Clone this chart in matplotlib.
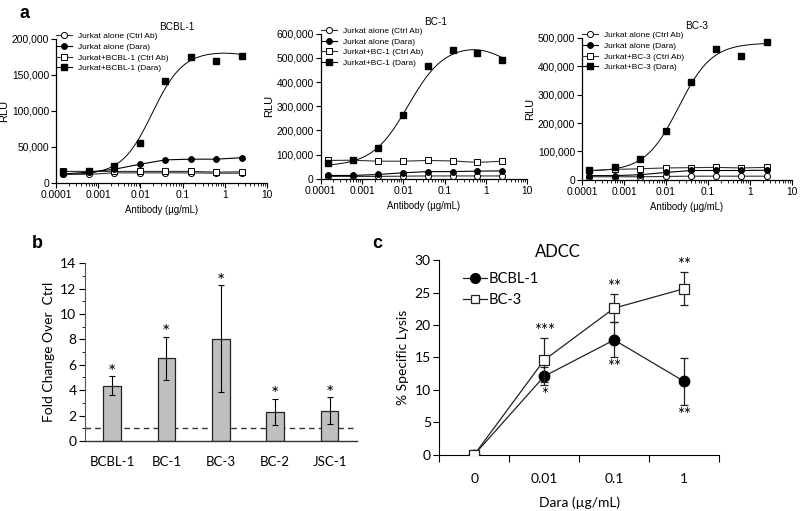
import numpy as np
import matplotlib
matplotlib.use('Agg')
import matplotlib.pyplot as plt
from matplotlib.lines import Line2D
from matplotlib.ticker import FuncFormatter, LogLocator, MultipleLocator, NullFormatter

# panel a: antibody dilution series (ug/mL)
conc = [0.00015, 0.00061, 0.0024, 0.0098, 0.039, 0.156, 0.625, 2.5]

cell_lines_a = ['BCBL-1', 'BC-1', 'BC-3']
jurkat_ctrl = [
    [12000, 12000, 14000, 14000, 14000, 14000, 13500, 13500],
    [10000, 10000, 10000, 11000, 12000, 12000, 12000, 12000],
    [11000, 11000, 11000, 12000, 13000, 13000, 13000, 13000],
]
jurkat_dara = [
    [12500, 15000, 19000, 26000, 32000, 33000, 33000, 35000],
    [14000, 14000, 18000, 25000, 30000, 30000, 32000, 33000],
    [15000, 15000, 18000, 26000, 33000, 33000, 33000, 34000],
]
target_ctrl = [
    [16000, 16000, 16000, 16000, 16000, 16000, 15000, 15500],
    [76000, 77000, 73000, 73000, 76000, 74000, 68000, 73000],
    [33000, 37000, 39000, 42000, 43000, 44000, 42000, 44000],
]
target_dara = [
    [15200, 16000, 23000, 56000, 141000, 175000, 169000, 175500],
    [66000, 77000, 128000, 263000, 466000, 532000, 521000, 492000],
    [35000, 44000, 73000, 173000, 343000, 462000, 437000, 484000],
]
# bell-shaped dose-response fit: bottom, top, logEC50, hill, plateau2, logEC50_2, hill2
fit_params = [
    [11000, 183000, -1.72, 1.2, 170000, 0.6, 1.5],
    [52000, 556000, -1.88, 1.0, 460000, 0.35, 1.5],
    [30000, 482000, -1.70, 1.1, 482000, 1.0, 1.0],
]
ymax_a = [200000, 600000, 500000]
ystep_a = [50000, 100000, 100000]

# panel b
lines_b = ['BCBL-1', 'BC-1', 'BC-3', 'BC-2', 'JSC-1']
fold = [4.35, 6.5, 8.05, 2.3, 2.4]
fold_err = [0.75, 1.7, 4.2, 1.02, 1.03]

# panel c
dara_levels = ['0', '0.01', '0.1', '1']
lysis_bcbl1 = [0, 12.1, 17.7, 11.3]
lysis_bcbl1_err = [0, 1.4, 2.7, 3.6]
lysis_bc3 = [0, 14.6, 22.6, 25.6]
lysis_bc3_err = [0, 3.4, 2.1, 2.5]
stars_bc3 = ['', '***', '**', '**']
stars_bcbl1 = ['', '*', '**', '**']


def bell(logx, p):
    bottom, top, ec1, h1, plat2, ec2, h2 = p
    return (bottom + (top - bottom) / (1 + 10 ** ((ec1 - logx) * h1))
            + (plat2 - top) / (1 + 10 ** ((ec2 - logx) * h2)))


fig = plt.figure(figsize=(8, 5.11), dpi=100)
arial = 'Liberation Sans'
calibri = 'Lato'

pos_a = [(0.070, 0.642, 0.264, 0.282), (0.401, 0.650, 0.258, 0.284), (0.7275, 0.648, 0.2625, 0.278)]
title_x = [0.57, 0.558, 0.548]

for i, name in enumerate(cell_lines_a):
    ax = fig.add_axes(pos_a[i])
    ax.set_xscale('log')
    k = dict(color='black', lw=0.8, ms=4.2, mew=0.7)
    ax.plot(conc, jurkat_ctrl[i], marker='o', mfc='white', mec='black', color='#333333', lw=0.8, ms=4.4, mew=0.7,
            label='Jurkat alone (Ctrl Ab)', zorder=3)
    ax.plot(conc, jurkat_dara[i], marker='o', mfc='black', label='Jurkat alone (Dara)', zorder=4, **k)
    ax.plot(conc, target_ctrl[i], marker='s', mfc='white', mec='black', color='#333333', lw=0.8, ms=4.0, mew=0.7,
            label='Jurkat+%s (Ctrl Ab)' % name, zorder=3)
    xs = np.logspace(np.log10(conc[0]), np.log10(conc[-1]), 200)
    ax.plot(xs, bell(np.log10(xs), fit_params[i]), color='black', lw=0.7, zorder=2)
    ax.plot(conc, target_dara[i], ls='none', marker='s', mfc='black', mec='black', ms=4.4, zorder=5)
    ax.plot([], [], marker='s', color='black', mfc='black', lw=0.8, ms=4.4, label='Jurkat+%s (Dara)' % name)

    ax.set_xlim(0.0001, 10)
    ax.set_ylim(0, ymax_a[i])
    ax.set_yticks(np.arange(0, ymax_a[i] + 1, ystep_a[i]))
    ax.yaxis.set_major_formatter(FuncFormatter(lambda v, p: '{:,.0f}'.format(v)))
    ax.set_xticks([0.0001, 0.001, 0.01, 0.1, 1, 10])
    ax.set_xticklabels(['0.0001', '0.001', '0.01', '0.1', '1', '10'])
    ax.xaxis.set_minor_locator(LogLocator(base=10, subs=np.arange(2, 10), numticks=20))
    ax.xaxis.set_minor_formatter(NullFormatter())
    for s in ['top', 'right']:
        ax.spines[s].set_visible(False)
    for s in ['left', 'bottom']:
        ax.spines[s].set_linewidth(0.9)
    ax.tick_params(axis='both', which='major', labelsize=7.4, length=3.5, width=0.8, pad=1.5)
    ax.tick_params(axis='x', which='minor', length=2, width=0.6)
    for t in ax.get_xticklabels() + ax.get_yticklabels():
        t.set_fontfamily(arial)
    ax.set_ylabel('RLU', fontsize=8, family=arial, labelpad=2)
    ax.set_xlabel('Antibody (µg/mL)', fontsize=6.9, family=arial, labelpad=4)
    ax.text(title_x[i], 1.08, name, transform=ax.transAxes, fontsize=7.2, family=arial,
            ha='center', va='center')
    ax.legend(loc='upper left', bbox_to_anchor=(0.0, 1.045), frameon=False,
              prop={'family': arial, 'size': 6.0}, handlelength=1.95, handletextpad=0.75,
              labelspacing=0.34, borderaxespad=0, borderpad=0)

fig.text(25 / 800, 1 - 14 / 511, 'a', fontsize=13, fontweight='bold', family=arial, va='center', ha='center')

# panel b
axb = fig.add_axes((0.106, 0.137, 0.34, 0.348))
xb = np.arange(len(lines_b))
axb.bar(xb, fold, width=0.32, color='#bfbfbf', edgecolor='#222222', lw=0.9, zorder=2)
axb.errorbar(xb, fold, yerr=fold_err, fmt='none', ecolor='black', elinewidth=0.8, capsize=2.5, capthick=0.8, zorder=3)
for xi, v, e in zip(xb, fold, fold_err):
    axb.text(xi, v + e - 0.35, '*', ha='center', va='bottom', fontsize=14, family=calibri)
axb.axhline(1, color='#333333', lw=1.0, ls=(0, (4, 3)), zorder=1)
axb.set_xlim(-0.5, 4.5)
axb.set_ylim(0, 14)
axb.yaxis.set_major_locator(MultipleLocator(2))
axb.yaxis.set_minor_locator(MultipleLocator(1))
axb.set_xticks(xb)
axb.set_xticklabels(lines_b)
axb.tick_params(axis='x', length=0, pad=11, labelsize=9.5)
axb.tick_params(axis='y', which='major', length=4, width=0.8, labelsize=10, pad=2)
axb.tick_params(axis='y', which='minor', length=2.5, width=0.6)
for s in ['top', 'right']:
    axb.spines[s].set_visible(False)
axb.spines['left'].set_color('#555555')
axb.spines['bottom'].set_color('#333333')
axb.spines['bottom'].set_linewidth(1.0)
for t in axb.get_xticklabels() + axb.get_yticklabels():
    t.set_fontfamily(calibri)
axb.set_ylabel('Fold Change Over  Ctrl', fontsize=10, family=calibri, labelpad=4)
fig.text(37 / 800, 1 - 243 / 511, 'b', fontsize=13, fontweight='bold', family=arial, va='center', ha='center')

# panel c
axc = fig.add_axes((0.549, 0.110, 0.35, 0.381))
xc = np.arange(len(dara_levels))
axc.errorbar(xc, lysis_bcbl1, yerr=lysis_bcbl1_err, color='#222222', lw=0.9, marker='o', ms=7.5,
             mfc='black', mec='black', ecolor='#222222', elinewidth=0.9, capsize=3, capthick=0.9, zorder=3)
axc.errorbar(xc, lysis_bc3, yerr=lysis_bc3_err, color='#222222', lw=0.9, marker='s', ms=6.5,
             mfc='white', mec='#222222', mew=0.9, ecolor='#222222', elinewidth=0.9, capsize=3, capthick=0.9,
             zorder=4)
for xi, v, e, s in zip(xc, lysis_bc3, lysis_bc3_err, stars_bc3):
    if s:
        axc.text(xi, v + e - 0.1, s, ha='center', va='bottom', fontsize=12, family=calibri)
for xi, v, e, s in zip(xc, lysis_bcbl1, lysis_bcbl1_err, stars_bcbl1):
    if s:
        axc.text(xi, v - e - 0.3, s, ha='center', va='top', fontsize=12, family=calibri)
axc.set_xlim(-0.5, 3.5)
axc.set_ylim(0, 30)
axc.yaxis.set_major_locator(MultipleLocator(5))
axc.set_xticks(np.arange(-0.5, 3.6, 1.0))
axc.set_xticklabels([])
axc.set_xticks(xc, minor=True)
axc.set_xticklabels(dara_levels, minor=True)
axc.tick_params(axis='x', which='major', length=5, width=0.8, direction='out')
axc.tick_params(axis='x', which='minor', length=0, pad=13, labelsize=10)
axc.tick_params(axis='y', length=4, width=0.8, labelsize=10, pad=2)
for s in ['top', 'right']:
    axc.spines[s].set_visible(False)
for t in axc.get_xticklabels(minor=True) + axc.get_yticklabels():
    t.set_fontfamily(calibri)
axc.set_ylabel('% Specific Lysis', fontsize=10, family=calibri, labelpad=4)
axc.set_xlabel('Dara (µg/mL)', fontsize=10, family=calibri, labelpad=8)
axc.set_title('ADCC', fontsize=12, family=calibri, pad=-10, x=0.425)
handles = [
    Line2D([], [], color='#222222', lw=0.9, marker='o', ms=7, mfc='black', mec='black'),
    Line2D([], [], color='#222222', lw=0.9, marker='s', ms=6, mfc='white', mec='#222222', mew=0.9),
]
axc.legend(handles, ['BCBL-1', 'BC-3'], loc='upper left', bbox_to_anchor=(0.05, 0.99), frameon=False,
           prop={'family': calibri, 'size': 10.5}, handlelength=1.6, handletextpad=0.1,
           labelspacing=0.45, borderaxespad=0.3)
fig.text(377 / 800, 1 - 243 / 511, 'c', fontsize=13, fontweight='bold', family=arial, va='center', ha='center')

fig.savefig('out.png', dpi=100)
